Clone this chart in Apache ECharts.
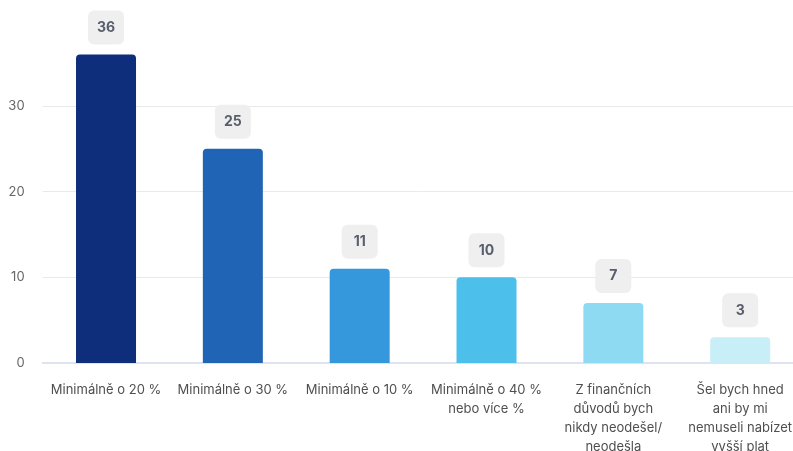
<!DOCTYPE html>
<html>
<head>
<meta charset="utf-8">
<script src="https://cdn.jsdelivr.net/npm/echarts@6/dist/echarts.min.js"></script>
<style>
  html, body { margin: 0; padding: 0; background: #fff; }
  #chart { width: 793px; height: 451px; }
</style>
</head>
<body>
<div id="chart"></div>
<script>
// Answer categories (line breaks as shown under the axis)
const categories = [
  'Minimálně o 20 %',
  'Minimálně o 30 %',
  'Minimálně o 10 %',
  'Minimálně o 40 %\nnebo více %',
  'Z finančních\ndůvodů bych\nnikdy neodešel/\nneodešla',
  'Šel bych hned\nani by mi\nnemuseli nabízet\nvyšší plat'
];
// Share of respondents per answer
const values = [36, 25, 11, 10, 7, 3];
// Bar fill per answer
const barColors = ['#0e2d7a', '#2064b5', '#3597dc', '#4cbfea', '#8fdaf3', '#c8eef8'];
// Value axis ticks
const yMin = 0, yMax = 40, yStep = 10;

const chart = echarts.init(document.getElementById('chart'));
chart.setOption({
  animation: false,
  textStyle: { fontFamily: 'Inter' },
  grid: {
    left: 42.6, top: 20.3, width: 761, height: 342.7,
    containLabel: false,
    outerBoundsMode: 'none'
  },
  xAxis: {
    type: 'category',
    data: categories,
    axisTick: { show: false },
    axisLine: { lineStyle: { color: '#dfe3f0', width: 2 } },
    axisLabel: {
      interval: 0,
      margin: 18,
      color: '#4f4f4f',
      fontSize: 13,
      lineHeight: 19,
      fontFamily: 'Inter'
    }
  },
  yAxis: {
    type: 'value',
    min: yMin, max: yMax, interval: yStep,
    axisLine: { show: false },
    axisTick: { show: false },
    splitLine: { showMaxLine: false, lineStyle: { color: '#e9e9e9', width: 1 } },
    axisLabel: {
      showMaxLabel: false,
      margin: 18,
      color: '#666',
      fontSize: 13,
      fontFamily: 'Inter'
    }
  },
  series: [{
    type: 'bar',
    barWidth: 60,
    data: values.map((v, i) => ({ value: v, itemStyle: { color: barColors[i] } })),
    itemStyle: { borderRadius: [4, 4, 0, 0] },
    label: {
      show: true,
      position: 'top',
      distance: 10,
      color: '#585f6c',
      fontWeight: 'bold',
      fontSize: 14,
      fontFamily: 'Inter',
      backgroundColor: '#efefef',
      borderRadius: 6,
      width: 16,
      align: 'center',
      padding: [10, 10, 10, 10]
    }
  }]
});
</script>
</body>
</html>
